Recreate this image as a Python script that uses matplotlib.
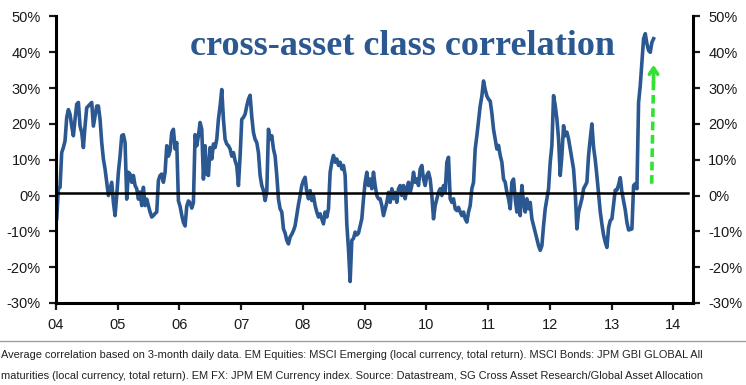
import numpy as np
import matplotlib
matplotlib.use('Agg')
import matplotlib.pyplot as plt
from matplotlib.lines import Line2D

# average cross-asset correlation (%), every 10 days
corr = [
    # 2004 - 2005
    -6.5, 1.9, 2.3, 12, 13.4, 15.3, 21.8, 24, 22.7, 19.4, 16.7, 21.3, 25.5, 26,
    19.4, 17.6, 13.4, 19.4, 24.5, 25, 25.5, 26, 19.4, 22.2, 25, 25, 21.3, 14.8,
    10.2, 7.4, 3.7, 0, 1.9, 3.7, -1.9, -5.6, 0, 6.5, 11, 16.7, 17, 14.8, -1,
    6.5, 6, 3.7, 5.6, 2.8, 1.9, -1, 1, -2.8, 2.3, -2.8, -1, -2.8, -4.6, -6,
    -5.6, -5, -4.6, 4.2, 5.6, 6, 3.7, 6.5, 13.9, 11, 12.5, 17.6, 18.5, 13, 14.8,
    # 2006 - mid 2007
    -1.5, -3, -5.5, -7.5, -8.5, -3, -1.5, -2, -3.5, -2, 17, 13.9, 16.7, 20.4,
    18.5, 4.6, 13.9, 6, 5.6, 13.4, 10.2, 14.4, 13.4, 15.7, 21.3, 25, 29.6, 21.3,
    15.7, 14.4, 13.9, 13, 11, 12, 9.7, 8.3, 2.8, 11, 21.3, 21.8, 22.7, 25, 26.9,
    28, 22, 17.6, 15.7, 14.8, 12, 5.6, 2.8, 1.4, -1.4, 1, 18.5, 15.7, 16.7, 13,
    11, 5.6,
    # mid 2007 - 2010
    -1, -3.7, -4.6, -9.3, -10.5, -12.5, -13.5, -11.6, -10.8, -9.8, -8.4, -5.5,
    -2.5, 0, 2.8, 4.2, 5.1, 0.9, -0.9, 1.4, -1.4, 0, -2.8, -4.6, -6, -5.1, -6.5,
    -7.9, -4.6, -6, -3.7, 6.5, 9.3, 11.2, 9.3, 10.2, 8.4, 9.3, 7.4, 8.4, 5.6,
    -8, -15, -24, -12.5, -12, -10.2, -11, -10.5, -8.5, -6.5, -0.9, 3.7, 6.5, 2.8,
    4.6, 1.9, 6.5, 2.8, 0, -0.9, -0.9, -2.8, -5.6, -3.7, -1.9, 0.9, -1.9, 1.9,
    -0.9, 0.9, -1.9, 1.9, 2.8, 0, 2.8, -0.9, 1.9, 3.7, 0.9, 2.8, 6.5, 3.7, 4.6,
    2.8, 7.4, 8.4, 4.6, 2.8, 5.6, 6.5, 4.6, 0, -6.5, -2.8, -0.9, 0.9, 1.9, 0,
    2.8, 0.9, 9.3, 10.7, -0.9, -1.9, -0.9, -3.7, -4.2, -3.3, -4.6, -5.6, -4.6,
    -6.5, -7.4, -4.6, -2.8, 1.9,
    # late 2010 - 2011
    3.7, 13, 16.7, 20.8, 25, 27.8, 32, 29.6, 27.8, 26.9, 26.4, 23, 18.5,
    15.8, 13, 14, 11.2, 9.3, 4.6, 3.7, 0.9, -0.9, -3.7, 3.7, 4.6, -0.9, -4.6, 0,
    -5.6, 2.8, -1.9, -4.6, -0.9, -3.7, -1.9, -6.5, -8.4, -10.2, -12.1, -14,
    -15.3, -14, -8.4, -3.7, -0.9, 1.9,
    # 2012 - 2013
    9.3, 14, 27.9, 25.1, 21.4, 15.8, 5.6, 11.2, 19.5, 16.7, 17.7, 15.8, 13,
    10.2, 7.4, 0.9, -9.3, -4.6, -2.8, -0.9, 1.9, 2.8, 3.7, 11.2, 15.8, 20, 13.5,
    10, 5.5, 0.5, -4.5, -8, -11, -13, -14.5, -9, -7, -6.5, -2.5, 1.5, 1.5, 3, 5,
    1, -1.5, -4, -7.5, -9.6, -9.5, -9.3, 2.8, 3.3, 1.9,
    26, 30.7, 37.3, 43.8, 45.2, 42.4, 40.5, 40, 42.8, 43.8,
]
years = np.linspace(2004.011, 2013.681, len(corr))

year_ticks = list(range(2004, 2015))
year_labels = ['%02d' % (y % 100) for y in year_ticks]
pct_ticks = list(range(-30, 51, 10))

arrow_from = (2013.65, 3.3)
arrow_to = (2013.68, 36.5)

title = 'cross-asset class correlation'
note1 = ('Average correlation based on 3-month daily data. EM Equities: MSCI Emerging '
         '(local currency, total return). MSCI Bonds: JPM GBI GLOBAL All')
note2 = ('maturities (local currency, total return). EM FX: JPM EM Currency index. '
         'Source: Datastream, SG Cross Asset Research/Global Asset Allocation')

blue = '#2b5891'
green = '#33e033'

plt.rcParams['font.family'] = ['Liberation Sans', 'DejaVu Sans']

fig = plt.figure(figsize=(7.46, 3.85), dpi=100)
ax = fig.add_axes([0.0751, 0.213, 0.8539, 0.7442])

ax.plot(years, corr, color=blue, lw=2.6, solid_joinstyle='round')
ax.axhline(0.75, xmax=0.992, color='black', lw=1.8, zorder=3)

# dashed green arrow
ax.plot([arrow_from[0], arrow_to[0]], [arrow_from[1], arrow_to[1] - 4],
        color=green, lw=2.6, ls=(0, (2.4, 1.3)), dash_capstyle='butt')
ax.annotate('', xy=arrow_to, xytext=(arrow_to[0], arrow_to[1] - 5),
            arrowprops=dict(arrowstyle='->,head_length=0.45,head_width=0.3',
                            color=green, lw=2.6, shrinkA=0, shrinkB=0))

ax.set_xlim(2004, 2014.32)
ax.set_ylim(-30, 50)
ax.set_xticks(year_ticks)
ax.set_xticklabels(year_labels)
ax.set_yticks(pct_ticks)
ax.set_yticklabels(['%d%%' % v for v in pct_ticks])

ax.spines['top'].set_visible(False)
for s in ['left', 'right', 'bottom']:
    ax.spines[s].set_linewidth(2.2)
ax.tick_params(axis='y', which='both', right=True, labelright=True,
               direction='out', length=5, width=1.6, pad=6, labelsize=10.5,
               colors='#1a1a1a')
ax.tick_params(axis='x', direction='out', length=5, width=1.6, pad=6,
               labelsize=10.5, colors='#1a1a1a')

fig.text(190 / 746, 1 - 55 / 385, title, ha='left', va='baseline',
         fontsize=26, fontweight='bold', color=blue,
         family=['Liberation Serif', 'DejaVu Serif'])

fig.add_artist(Line2D([0, 1], [1 - 341 / 385] * 2, color='#a0a0a0', lw=1,
                      transform=fig.transFigure))
fig.text(0.001, 1 - 355 / 385, note1, va='center', fontsize=7.95,
         color='#222222')
fig.text(0.001, 1 - 376 / 385, note2, va='center', fontsize=7.95,
         color='#222222')

fig.savefig('out.png', dpi=100)
